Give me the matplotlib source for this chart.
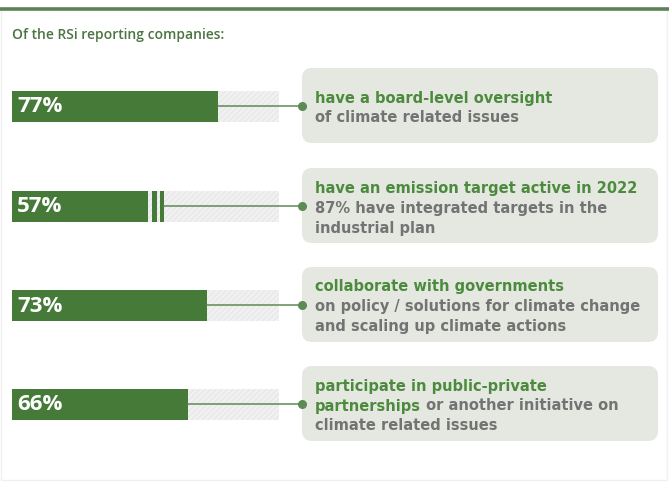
import matplotlib.pyplot as plt
from matplotlib.patches import FancyBboxPatch, Rectangle

# --- data -----------------------------------------------------------------
shares = [77, 57, 73, 66]
share_labels = ["77%", "57%", "73%", "66%"]
broken_bar = [False, True, False, False]

# each description line is a list of (text, is_highlight) fragments
descriptions = [
    [[("have a board-level oversight", True)],
     [("of climate related issues", False)]],
    [[("have an emission target active in 2022", True)],
     [("87% have integrated targets in the", False)],
     [("industrial plan", False)]],
    [[("collaborate with governments", True)],
     [("on policy / solutions for climate change", False)],
     [("and scaling up climate actions", False)]],
    [[("participate in public-private", True)],
     [("partnerships", True), (" or another initiative on", False)],
     [("climate related issues", False)]],
]
title = "Of the RSi reporting companies:"

# --- style ----------------------------------------------------------------
W, H = 669, 482
GREEN = "#467a38"
TEXT_GREEN = "#4c8a3e"
GRAY = "#737373"
BOX = "#e5e8e1"
LINE = "#5e8a55"
FONT = "Open Sans"
BODY_FONT = "DejaVu Sans"

row_y = [106, 206, 305, 404]
bar_h = 31
track_x0, track_x1 = 12, 279
box_x0, box_x1 = 302, 658
box_h = 75
line_gap = 20

fig = plt.figure(figsize=(W / 100, H / 100), dpi=100)
fig.patch.set_facecolor("white")

# pixel-space overlay for frame, title and callout boxes
ax = fig.add_axes([0, 0, 1, 1])
ax.set_xlim(0, W)
ax.set_ylim(H, 0)
ax.axis("off")

# bar axes: x in percent, y in pixels
bx = fig.add_axes([track_x0 / W, 0, (track_x1 - track_x0) / W, 1])
bx.set_xlim(0, 100)
bx.set_ylim(H, 0)
bx.axis("off")
px_per_pct = (track_x1 - track_x0) / 100.0

# frame and top rule
ax.add_patch(Rectangle((1, 9), W - 3, H - 11, fill=False,
                       edgecolor="#f0f0f0", linewidth=1))
ax.plot([0, W], [8.5, 8.5], color="#5b8357", linewidth=2.6,
        solid_capstyle="butt")

ax.text(12, 35, title, fontsize=10, color="#4a7442", family=FONT,
        fontweight="semibold", va="center", ha="left")

dot_pct = (box_x0 - track_x0) / px_per_pct

for y, v, lab, brk in zip(row_y, shares, share_labels, broken_bar):
    # background track
    bx.barh(y, 100, height=bar_h, left=0, color="#f1f1f1",
            edgecolor="#e8e8e8", hatch="//////", linewidth=0)
    if brk:
        # solid part, then two thin slices marking a scale break
        solid = v - 16 / px_per_pct
        bx.barh(y, solid, height=bar_h, color=GREEN, linewidth=0)
        for s0, s1 in [(v - 12 / px_per_pct, v - 7 / px_per_pct),
                       (v - 4 / px_per_pct, v)]:
            bx.barh(y, s1 - s0, left=s0, height=bar_h, color=GREEN,
                    linewidth=0)
    else:
        bx.barh(y, v, height=bar_h, color=GREEN, linewidth=0)

    # connector to the callout
    bx.plot([v, dot_pct], [y, y], color=LINE, linewidth=1.1,
            clip_on=False)
    bx.plot([dot_pct], [y], "o", color=LINE, markersize=5.5,
            clip_on=False)

    bx.text(5 / px_per_pct, y + 1, lab, color="white", fontsize=16,
            fontweight="bold", family=FONT, va="center", ha="left")

fig.canvas.draw()
renderer = fig.canvas.get_renderer()

for y, lines in zip(row_y, descriptions):
    ax.add_patch(FancyBboxPatch((box_x0, y - box_h / 2 - 0.5),
                                box_x1 - box_x0, box_h,
                                boxstyle="round,pad=0,rounding_size=10",
                                facecolor=BOX, edgecolor="none", zorder=1))
    n = len(lines)
    for i, frags in enumerate(lines):
        base = y + (i - (n - 1) / 2) * line_gap + 6.5
        x = 315
        for txt, hi in frags:
            t = ax.text(x, base, txt, fontsize=10.5, family=BODY_FONT,
                        color=TEXT_GREEN if hi else GRAY,
                        fontweight="bold",
                        va="baseline", ha="left", zorder=3)
            x += t.get_window_extent(renderer).width

fig.savefig("out.png", dpi=100, facecolor="white")
